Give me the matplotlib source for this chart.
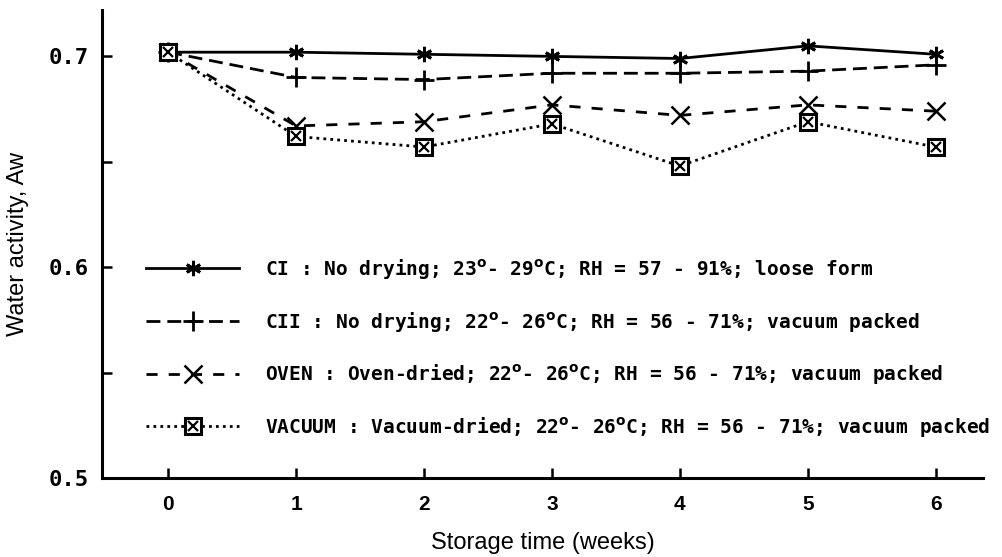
import matplotlib
matplotlib.use('Agg')
import matplotlib.pyplot as plt
from matplotlib.legend_handler import HandlerTuple

# data
weeks = [0, 1, 2, 3, 4, 5, 6]
ci = [0.702, 0.702, 0.701, 0.700, 0.699, 0.705, 0.701]
cii = [0.702, 0.690, 0.689, 0.692, 0.692, 0.693, 0.696]
oven = [0.702, 0.667, 0.669, 0.677, 0.672, 0.677, 0.674]
vacuum = [0.702, 0.662, 0.657, 0.668, 0.648, 0.669, 0.657]

labels = [
    r'CI : No drying; 23$^{\mathbf{o}}$- 29$^{\mathbf{o}}$C; RH = 57 - 91%; loose form',
    r'CII : No drying; 22$^{\mathbf{o}}$- 26$^{\mathbf{o}}$C; RH = 56 - 71%; vacuum packed',
    r'OVEN : Oven-dried; 22$^{\mathbf{o}}$- 26$^{\mathbf{o}}$C; RH = 56 - 71%; vacuum packed',
    r'VACUUM : Vacuum-dried; 22$^{\mathbf{o}}$- 26$^{\mathbf{o}}$C; RH = 56 - 71%; vacuum packed',
]

fig = plt.figure(figsize=(10.02, 5.57), dpi=100)
ax = fig.add_axes([0.102, 0.142, 0.879, 0.840])

k = 'black'
# asterisk = 6 spokes
h1, = ax.plot(weeks, ci, '-', color=k, lw=2, marker=(6, 2, 0), ms=11, mew=2)
h2, = ax.plot(weeks, cii, color=k, lw=2, ls=(0, (5, 2.5)), marker='+', ms=15, mew=2)
h3, = ax.plot(weeks, oven, color=k, lw=2, ls=(0, (4, 4)), marker='x', ms=13, mew=1.8)
h4, = ax.plot(weeks, vacuum, color=k, lw=2, ls=(0, (1, 1.5)), marker='s', ms=11,
              mfc='white', mec=k, mew=2.2)
h4x, = ax.plot(weeks, vacuum, ls='none', color=k, marker='x', ms=7, mew=1.6)

ax.set_xlim(-0.516, 6.37)
ax.set_ylim(0.5, 0.722)
ax.set_xticks(weeks)
ax.set_yticks([0.5, 0.6, 0.7])
ax.set_yticks([0.55, 0.65], minor=True)
ax.set_yticklabels(['0.5', '0.6', '0.7'])

for s in ['top', 'right']:
    ax.spines[s].set_visible(False)
for s in ['left', 'bottom']:
    ax.spines[s].set_linewidth(2.2)

ax.tick_params(axis='both', which='both', direction='in', length=7, width=1.8)
ax.tick_params(axis='x', pad=12)
ax.tick_params(axis='y', pad=10)
for t in ax.get_xticklabels():
    t.set_fontfamily('Liberation Sans')
    t.set_fontweight('bold')
    t.set_fontsize(15)
for t in ax.get_yticklabels():
    t.set_fontfamily('DejaVu Sans Mono')
    t.set_fontweight('bold')
    t.set_fontsize(16)

ax.set_xlabel('Storage time (weeks)', fontfamily='Liberation Sans', fontsize=17, labelpad=13)
ax.set_ylabel('Water activity, Aw', fontfamily='Liberation Sans', fontsize=17, labelpad=14)

leg = ax.legend([h1, h2, h3, (h4, h4x)], labels,
                handler_map={tuple: HandlerTuple(ndivide=1, pad=0)},
                loc='upper left', bbox_to_anchor=(0.03, 0.51),
                frameon=False, numpoints=1, handlelength=4.8, handletextpad=1.3,
                labelspacing=1.48,
                prop={'family': 'DejaVu Sans Mono', 'weight': 'bold', 'size': 14})

fig.savefig('out.png', dpi=100)
